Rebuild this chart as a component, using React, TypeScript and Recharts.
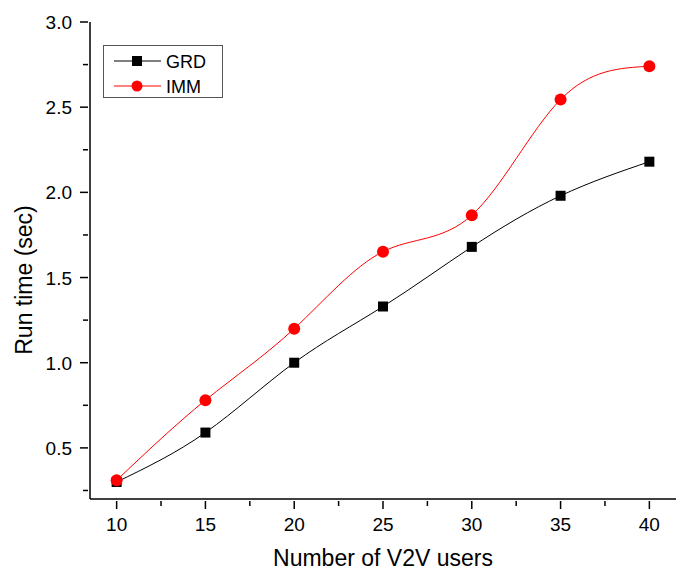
import { LineChart, Line, XAxis, YAxis, Label } from "recharts";

const users: number[] = [10, 15, 20, 25, 30, 35, 40];
const grd: number[] = [0.3, 0.59, 1.0, 1.33, 1.68, 1.98, 2.18];
const imm: number[] = [0.31, 0.78, 1.2, 1.652, 1.866, 2.545, 2.74];

const xTicks: number[] = [10, 12.5, 15, 17.5, 20, 22.5, 25, 27.5, 30, 32.5, 35, 37.5, 40];
const yTicks: number[] = [0.25, 0.5, 0.75, 1.0, 1.25, 1.5, 1.75, 2.0, 2.25, 2.5, 2.75, 3.0];

const data = users.map((u, i) => ({ users: u, GRD: grd[i], IMM: imm[i] }));

const FONT = "Liberation Sans, Arial, sans-serif";
const MAJOR = 8;
const MINOR = 5;

const isMajorX = (v: number) => v % 5 === 0;
const isMajorY = (v: number) => Math.abs(v * 2 - Math.round(v * 2)) < 1e-6;

const BottomTick = (props: any) => {
  const { x, y, payload } = props;
  const major = isMajorX(payload.value);
  return (
    <g>
      <line x1={x} x2={x} y1={y} y2={y + (major ? MAJOR : MINOR)} stroke="#000" strokeWidth={1.5} />
      {major && (
        <text x={x} y={y + 30} textAnchor="middle" fontSize={19} fontFamily={FONT} fill="#000">
          {payload.value}
        </text>
      )}
    </g>
  );
};

const TopTick = (props: any) => {
  const { x, y, payload } = props;
  const major = isMajorX(payload.value);
  return <line x1={x} x2={x} y1={y} y2={y + (major ? MAJOR : MINOR)} stroke="#000" strokeWidth={1.5} />;
};

const LeftTick = (props: any) => {
  const { x, y, payload } = props;
  const major = isMajorY(payload.value);
  return (
    <g>
      <line x1={x - (major ? MAJOR : MINOR)} x2={x} y1={y} y2={y} stroke="#000" strokeWidth={1.5} />
      {major && (
        <text x={x - 16} y={y + 7} textAnchor="end" fontSize={19} fontFamily={FONT} fill="#000">
          {payload.value.toFixed(1)}
        </text>
      )}
    </g>
  );
};

const RightTick = (props: any) => {
  const { x, y, payload } = props;
  const major = isMajorY(payload.value);
  return <line x1={x - (major ? MAJOR : MINOR)} x2={x} y1={y} y2={y} stroke="#000" strokeWidth={1.5} />;
};

const SquareDot = (props: any) => {
  const { cx, cy } = props;
  if (cx == null || cy == null) return null;
  return <rect x={cx - 5} y={cy - 5} width={10} height={10} fill="#000" />;
};

const CircleDot = (props: any) => {
  const { cx, cy } = props;
  if (cx == null || cy == null) return null;
  return <circle cx={cx} cy={cy} r={6} fill="#ff0000" />;
};

const LegendBox = () => (
  <svg width={121} height={54} style={{ position: "absolute", left: 103, top: 45 }}>
    <rect x={0.5} y={0.5} width={119} height={52} fill="#fff" stroke="#555" strokeWidth={1} />
    <line x1={11} x2={58} y1={16} y2={16} stroke="#000" strokeWidth={1} />
    <rect x={29} y={11} width={10} height={10} fill="#000" />
    <text x={63} y={23} fontSize={18} fontFamily={FONT} fill="#000">GRD</text>
    <line x1={11} x2={58} y1={41} y2={41} stroke="#ff0000" strokeWidth={1} />
    <circle cx={34} cy={41} r={5.5} fill="#ff0000" />
    <text x={63} y={48} fontSize={18} fontFamily={FONT} fill="#000">IMM</text>
  </svg>
);

const YLabel = () => {
  const cx = 24;
  const cy = 280;
  return (
    <text x={cx} y={cy} transform={`rotate(-90 ${cx} ${cy})`} textAnchor="middle" dominantBaseline="central" fontSize={23} fontFamily={FONT} fill="#000">
      Run time (sec)
    </text>
  );
};

const XLabel = () => (
  <text x={383} y={566} textAnchor="middle" fontSize={23} fontFamily={FONT} fill="#000">
    Number of V2V users
  </text>
);

export default function App() {
  return (
    <div style={{ position: "absolute", left: 0, top: 0, background: "#fff" }}>
      <LineChart width={681} height={571} data={data} margin={{ top: 22, right: 5, bottom: 0, left: 0 }}>
        <XAxis
          dataKey="users"
          type="number"
          domain={[8.5, 41.5]}
          ticks={xTicks}
          interval={0}
          tickSize={0}
          tickLine={false}
          tick={<BottomTick />}
          axisLine={{ stroke: "#000", strokeWidth: 1.5 }}
          height={72}
        >
          <Label content={<XLabel />} />
        </XAxis>
        <XAxis
          xAxisId="top"
          orientation="top"
          dataKey="users"
          type="number"
          domain={[8.5, 41.5]}
          ticks={xTicks}
          interval={0}
          tickSize={0}
          tickLine={false}
          tick={<TopTick />}
          axisLine={{ stroke: "#000", strokeWidth: 1.5 }}
          height={0}
        />
        <YAxis
          type="number"
          domain={[0.2, 3.0]}
          ticks={yTicks}
          interval={0}
          tickSize={0}
          tickLine={false}
          tick={<LeftTick />}
          axisLine={{ stroke: "#000", strokeWidth: 1.5 }}
          width={90}
          allowDataOverflow
        >
          <Label content={<YLabel />} />
        </YAxis>
        <YAxis
          yAxisId="right"
          orientation="right"
          type="number"
          domain={[0.2, 3.0]}
          ticks={yTicks}
          interval={0}
          tickSize={0}
          tickLine={false}
          tick={<RightTick />}
          axisLine={{ stroke: "#000", strokeWidth: 1.5 }}
          width={0}
          allowDataOverflow
        />
        <Line
          type="natural"
          dataKey="GRD"
          stroke="#000"
          strokeWidth={1}
          dot={<SquareDot />}
          activeDot={false}
          isAnimationActive={false}
        />
        <Line
          type="natural"
          dataKey="IMM"
          stroke="#ff0000"
          strokeWidth={1}
          dot={<CircleDot />}
          activeDot={false}
          isAnimationActive={false}
        />
      </LineChart>
      <LegendBox />
    </div>
  );
}
